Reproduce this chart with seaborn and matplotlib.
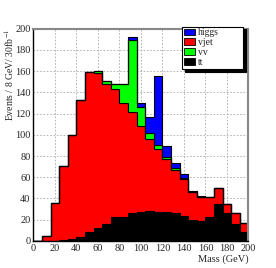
import numpy as np
import pandas as pd
import matplotlib
matplotlib.use("Agg")
import matplotlib.pyplot as plt
import seaborn as sns
from matplotlib.patches import Patch
from matplotlib.ticker import MultipleLocator

# ---- data (events per 8 GeV bin, 0..200 GeV) ----
bin_edges = list(range(0, 201, 8))
tt = [0, 0, 0, 1, 1.5, 4, 8, 12, 16, 22.5, 22.5, 26, 27.7, 28.3, 27, 27,
      26.7, 23.8, 20, 19, 22.7, 35, 26, 15.7, 8.5]
vjet = [0, 5, 35.5, 70, 98, 128.5, 151.5, 146.5, 132, 120.5, 107, 95.2, 80.3,
        68.2, 60, 50.5, 40.3, 34.4, 25.7, 22.5, 18.8, 15, 8.8, 10.4, 8.5]
vv = [0, 0, 0, 0, 0, 0, 0, 1.5, 2.3, 4.8, 18, 68.4, 18, 5.5, 3.5, 1.5,
      1.4, 0.9, 0.3, 0, 0, 0, 0, 0, 0]
higgs = [0, 0, 0, 0, 0, 0, 0, 0, 0, 0.2, 0.5, 2.6, 3.9, 14.7, 64.5, 10.6,
         5.2, 3.6, 1.5, 0.5, 0, 0, 0, 0, 0]
processes = ["higgs", "vjet", "vv", "tt"]
colors = {"higgs": "#0000ff", "vjet": "#ff0000", "vv": "#00ff00", "tt": "#000000"}
x_ticks = list(range(0, 201, 20))
y_ticks = list(range(0, 201, 20))

edges = [float(e) for e in bin_edges]
centers = [(a + b) / 2 for a, b in zip(edges[:-1], edges[1:])]
series = {"higgs": higgs, "vjet": vjet, "vv": vv, "tt": tt}
rows = []
for p in processes:
    for c, v in zip(centers, series[p]):
        rows.append({"mass": c, "events": v, "process": p})
df = pd.DataFrame(rows)

sns.set_style("white")
plt.rcParams["font.family"] = ["Liberation Serif", "DejaVu Serif"]
plt.rcParams["mathtext.fontset"] = "stix"

fig = plt.figure(figsize=(2.76, 2.68), dpi=100)
ax = fig.add_axes([0.121, 0.101, 0.779, 0.792])

# grid behind the histogram, ticks above it
for xv in x_ticks[1:-1]:
    ax.axvline(xv, color="#aaaaaa", linestyle=(0, (2, 2)), linewidth=0.6,
               zorder=0.3)
for yv in y_ticks[1:-1]:
    ax.axhline(yv, color="#aaaaaa", linestyle=(0, (2, 2)), linewidth=0.6,
               zorder=0.3)

# stacking order: tt bottom, vjet, vv, higgs on top
stack_order = ["higgs", "vv", "vjet", "tt"]
sns.histplot(data=df, x="mass", weights="events", hue="process",
             hue_order=stack_order, multiple="stack", bins=edges,
             element="step", palette=colors, edgecolor="black",
             linewidth=0.8, alpha=1, legend=False, ax=ax)

ax.set_xlim(0, 200)
ax.set_ylim(0, 200)
ax.set_xticks(x_ticks)
ax.set_yticks(y_ticks)
ax.xaxis.set_minor_locator(MultipleLocator(4))
ax.yaxis.set_minor_locator(MultipleLocator(4))
ax.tick_params(axis="both", which="major", direction="in", length=5,
               width=0.8, labelsize=7.5, pad=2, top=False, right=False)
ax.tick_params(axis="both", which="minor", direction="in", length=2.5,
               width=0.6, top=False, right=False)
ax.grid(False)
ax.set_axisbelow(False)
ax.set_xlabel("Mass (GeV)", fontsize=7.5, loc="right", labelpad=1)
ax.set_ylabel("Events / 8 GeV/ 30fb$^{-1}$", fontsize=7, loc="top")
ax.yaxis.set_label_coords(-0.082, 1.0)
for s in ["left", "bottom"]:
    ax.spines[s].set_color("black")
    ax.spines[s].set_linewidth(1.0)
for s in ["top", "right"]:
    ax.spines[s].set_color("#888888")
    ax.spines[s].set_linewidth(1.5)

handles = [Patch(facecolor=colors[p], edgecolor="black", linewidth=0.6)
           for p in processes]
leg = ax.legend(handles, processes, loc="upper left",
                bbox_to_anchor=(0.69, 0.815, 0.284, 0.195), mode="expand",
                frameon=True, fancybox=False,
                shadow={"color": "black", "alpha": 1}, edgecolor="black",
                framealpha=1, fontsize=7, handlelength=1.2, handleheight=0.7,
                labelspacing=0.08, borderpad=0.2, handletextpad=0.3,
                borderaxespad=0)
leg.get_frame().set_linewidth(0.8)

fig.savefig("out.png", dpi=100)
